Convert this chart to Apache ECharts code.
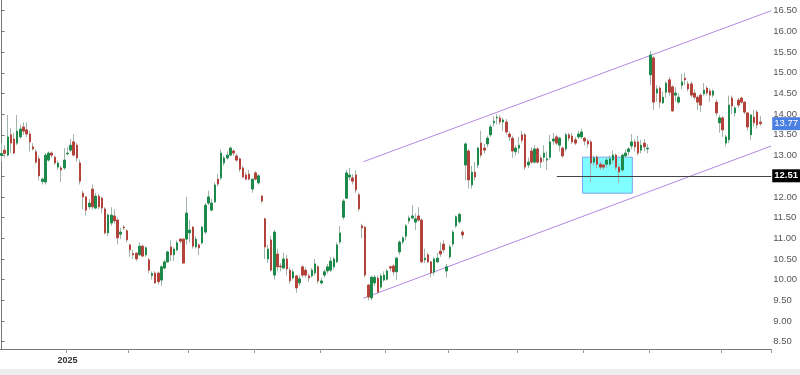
<!DOCTYPE html>
<html><head><meta charset="utf-8">
<script src="https://cdn.jsdelivr.net/npm/echarts@6/dist/echarts.min.js"></script>
<style>html,body{margin:0;padding:0;background:#fff}#c{width:800px;height:375px}</style>
</head><body><div id="c"></div>
<script>
// [open, close, low, high]
const candles = [
[13.00,13.05,12.85,13.30],[13.13,13.05,12.95,13.25],[13.01,13.45,12.98,13.98],[13.50,13.30,13.06,13.66],
[13.40,13.06,13.03,13.55],[13.30,13.59,13.25,13.98],[13.45,13.64,13.40,13.75],[13.69,13.59,13.50,13.80],
[13.62,13.52,13.45,13.80],[13.52,13.33,13.10,13.60],[13.21,13.16,13.12,13.30],[13.09,12.84,12.80,13.15],
[12.92,12.51,12.40,13.00],[12.37,12.43,12.30,12.47],[12.36,13.01,12.30,13.06],[12.89,13.06,12.85,13.10],
[13.06,13.01,12.95,13.10],[12.96,12.82,12.77,13.00],[12.72,12.82,12.65,12.88],[12.70,12.65,12.36,12.75],
[12.70,12.89,12.65,13.18],[13.04,13.06,13.00,13.20],[13.13,13.25,13.08,13.40],[13.33,13.01,12.98,13.52],
[13.25,12.94,12.85,13.30],[12.82,12.38,12.30,12.90],[12.09,12.00,11.70,12.15],[12.00,11.68,11.55,12.02],
[11.76,11.85,11.70,11.95],[12.19,11.76,11.70,12.30],[11.73,12.02,11.70,12.10],[12.02,11.76,11.70,12.08],
[11.97,11.73,11.60,12.00],[11.71,11.13,11.10,11.75],[11.13,11.56,11.05,11.60],[11.37,11.56,11.30,11.75],
[11.54,11.42,11.35,11.70],[11.44,11.01,10.85,11.50],[11.10,11.15,10.98,11.25],[11.27,11.25,11.20,11.32],
[11.18,10.96,10.90,11.22],[10.84,10.72,10.55,10.86],
[10.63,10.60,10.50,10.72],[10.64,10.50,10.45,10.66],[10.60,10.81,10.58,10.90],[10.81,10.57,10.55,10.85],
[10.60,10.77,10.55,10.80],[10.48,10.23,10.15,10.52],[10.10,10.15,10.00,10.20],[10.16,9.92,9.90,10.20],
[10.16,9.95,9.88,10.20],[9.99,10.31,9.85,10.35],[10.28,10.43,10.25,10.48],[10.43,10.67,10.40,10.70],
[10.79,10.60,10.45,10.95],[10.60,10.74,10.45,10.78],[10.72,10.89,10.68,10.95],[10.98,10.93,10.88,11.00],
[10.98,10.40,10.40,11.00],[10.98,11.61,10.85,12.00],[11.13,11.20,10.90,11.45],[11.27,10.81,10.75,11.30],
[10.79,10.98,10.75,11.05],[10.84,10.77,10.60,10.88],[10.89,11.27,10.85,11.30],[11.15,11.80,11.10,11.85],
[11.85,12.00,11.80,12.15],[11.68,11.85,11.65,11.95],[11.88,12.29,11.85,12.35],[12.43,12.31,12.25,12.55],
[12.46,13.06,12.40,13.15],[12.82,12.94,12.75,13.00],[12.94,13.01,12.90,13.10],[13.01,13.18,12.98,13.22],
[13.11,13.06,13.00,13.15],[12.99,12.89,12.85,13.05],[12.92,12.67,12.60,12.95],[12.70,12.48,12.45,12.75],
[12.53,12.43,12.40,12.60],[12.55,12.43,12.40,12.65],[12.19,12.43,12.10,12.45],[12.58,12.43,12.40,12.62],
[12.34,12.51,12.30,12.55],[12.02,11.90,11.85,12.05],[11.47,10.79,10.50,11.50],[10.50,10.74,10.40,10.85],
[10.96,10.23,10.20,11.05],[10.11,11.15,10.00,11.20],[10.62,10.31,10.20,10.75],[10.33,10.31,10.20,10.40],
[10.28,10.50,10.25,10.65],[10.50,10.26,10.10,10.60],[10.23,9.97,9.90,10.30],[10.04,10.19,10.00,10.25],
[10.09,9.80,9.68,10.12],[9.92,10.02,9.85,10.10],[10.31,10.11,10.05,10.35],[10.23,10.11,10.05,10.30],
[10.09,10.04,9.95,10.15],[10.09,10.23,10.05,10.28],[10.16,10.38,10.10,10.50],[10.31,9.97,9.90,10.35],
[9.92,9.97,9.88,10.05],[10.11,10.19,10.05,10.25],[10.21,10.31,10.15,10.38],[10.23,10.45,10.18,10.55],
[10.31,10.50,10.25,10.55],[10.43,10.84,10.40,10.90],[10.91,11.13,10.85,11.30],[11.51,11.90,11.45,11.95],
[11.97,12.58,11.95,12.65],[12.48,12.53,12.40,12.70],[12.46,12.38,12.30,12.55],[12.53,12.17,12.10,12.65],
[12.05,11.71,11.65,12.10],[11.30,11.25,11.00,11.35],[11.27,10.11,10.05,11.30],[9.87,9.58,9.50,9.90],
[9.56,10.06,9.50,10.10],[9.92,10.06,9.85,10.12],[10.04,9.70,9.65,10.10],[9.82,10.09,9.78,10.15],
[9.99,10.11,9.95,10.20],[10.01,10.21,9.98,10.25],
[10.31,10.28,10.20,10.35],[10.33,10.19,10.10,10.38],[10.19,10.52,10.00,10.55],[10.67,10.91,10.60,10.95],
[10.91,11.01,10.85,11.05],[11.05,11.30,10.95,11.35],[11.42,11.49,11.35,11.55],[11.49,11.54,11.45,11.80],
[11.39,11.47,11.20,11.60],[11.54,11.44,11.40,11.75],[11.44,10.43,10.40,11.48],[10.48,10.52,10.40,10.75],
[10.60,10.43,10.40,10.65],[10.43,10.16,10.05,10.45],[10.18,10.50,10.10,10.55],[10.43,10.52,10.40,10.65],
[10.69,10.62,10.55,10.90],[10.86,10.72,10.65,10.95],[10.21,10.31,10.05,10.38],[10.55,10.79,10.50,10.85],
[10.86,11.15,10.80,11.20],[11.30,11.52,11.25,11.55],[11.40,11.58,11.35,11.62],[11.15,11.08,10.98,11.20],
[12.77,13.28,12.40,13.32],[13.11,12.41,12.20,13.15],[12.29,12.60,12.20,12.75],[12.60,12.48,12.40,12.85],
[12.77,13.18,12.70,13.22],[13.30,13.01,12.95,13.60],[13.18,13.13,13.05,13.28],[13.28,13.42,13.20,13.48],
[13.50,13.69,13.45,13.75],[13.79,13.83,13.70,13.95],[13.91,13.93,13.75,14.00],[13.91,13.81,13.75,13.98],
[13.81,13.86,13.60,13.92],[13.81,13.57,13.50,13.88],[13.52,13.45,13.35,13.58],[13.42,13.11,12.95,13.48],
[13.09,13.18,13.00,13.25],[13.18,13.25,13.05,13.45],
[13.50,13.37,13.30,13.60],[13.50,12.72,12.65,13.55],[12.77,12.84,12.70,12.95],[13.11,12.84,12.80,13.20],
[12.84,13.16,12.80,13.25],[13.16,12.84,12.80,13.20],[12.94,12.84,12.70,13.00],[12.96,13.06,12.85,13.25],
[12.89,12.92,12.65,13.10],[12.96,13.33,12.90,13.50],[13.35,13.40,13.25,13.55],[13.45,13.30,13.25,13.50],
[13.25,13.42,13.10,13.45],[13.18,12.99,12.95,13.22],[13.16,13.50,13.10,13.55],[13.50,13.42,13.35,13.55],
[13.47,13.33,13.28,13.55],[13.38,13.30,13.25,13.45],[13.45,13.52,13.40,13.60],[13.45,13.57,13.40,13.65],
[13.42,13.35,13.25,13.45],[13.35,13.28,13.20,13.40],[13.33,12.82,12.36,13.38],[12.84,12.94,12.75,13.00],
[12.96,12.79,12.70,13.00],[12.79,12.72,12.65,12.85],[12.77,12.72,12.65,12.80],[12.79,12.89,12.70,12.95],
[12.79,12.92,12.75,13.00],[12.89,13.01,12.80,13.12],[13.01,12.72,12.65,13.05],[12.72,12.60,12.34,12.75],
[12.65,13.01,12.60,13.05],[12.99,13.06,12.95,13.15],[13.09,13.16,13.00,13.20],[13.23,13.33,13.15,13.52],
[13.33,13.21,13.10,13.40],[13.33,13.06,13.00,13.48],[13.13,13.25,13.05,13.38],[13.30,13.21,13.10,13.40],
[13.16,13.18,13.05,13.28],
[14.95,15.43,14.70,15.53],[15.36,14.29,14.10,15.40],[14.51,14.61,14.30,14.70],[14.63,14.29,14.15,14.68],
[14.27,14.41,14.25,14.55],[14.53,14.75,14.40,14.80],[14.83,14.53,14.45,14.90],[14.66,14.08,14.05,14.70],
[14.46,14.51,14.30,14.65],[14.29,14.41,14.25,14.50],[14.70,14.78,14.60,14.98],[14.87,14.83,14.70,15.00],
[14.73,14.61,14.55,14.80],[14.73,14.46,14.40,14.78],[14.51,14.41,14.35,14.60],[14.41,14.29,14.10,14.45],
[14.46,14.22,14.05,14.50],[14.49,14.58,14.45,14.75],[14.63,14.51,14.45,14.68],[14.56,14.46,14.30,14.62],
[14.46,14.56,14.40,14.60],[14.29,14.03,13.95,14.35],[13.79,13.91,13.55,13.98],[13.91,13.62,13.45,13.95],
[13.30,13.45,13.22,13.50],[13.38,14.22,13.30,14.45],[14.39,14.20,14.00,14.45],[14.03,14.15,13.95,14.20],
[14.34,14.22,14.15,14.40],[14.39,14.29,14.25,14.42],[14.29,14.05,14.00,14.32],[14.03,13.69,13.60,14.05],
[13.50,13.98,13.38,14.00],[13.93,13.79,13.70,14.10],[14.05,13.74,13.65,14.10],[13.81,13.77,13.72,13.95]
];
const slotCount = 246;
const monthTicks = [21,41,60,81,102,123,143,165,186,207,230];
const monthLabels = ['2025','','','','','','','','','',''];
const priceTicks = [8.5,9,9.5,10,10.5,11,11.5,12,12.5,13,13.5,14,14.5,15,15.5,16,16.5];
const yRange = [8.324, 16.759];
const lastPrice = 13.77;
const levelPrice = 12.51;
const levelStart = 177.1;
const channelUpper = [[115.4,12.85],[245.5,16.5]];
const channelLower = [[115.4,9.55],[245.5,13.23]];
const zoneBox = [[185.3,12.96],[201.2,12.09]];

const categories = Array.from({length: slotCount}, (_, i) => String(i));
const bodies = candles.map(c => [c[0], c[1], Math.min(c[0], c[1]), Math.max(c[0], c[1])]);

const chart = echarts.init(document.getElementById('c'), null, {renderer: 'canvas'});
const narrow = "'Liberation Sans Narrow','Arial Narrow','Liberation Sans',Arial,sans-serif";
chart.setOption({
  animation: false,
  backgroundColor: '#fff',
  grid: {left: 0, right: 24, top: 0, bottom: 26},
  xAxis: [{
    type: 'category', data: categories, boundaryGap: true,
    axisLine: {show: true, lineStyle: {color: '#777'}},
    axisTick: {show: true, length: 4, lineStyle: {color: '#999'}, interval: i => monthTicks.includes(i)},
    axisLabel: {interval: i => monthTicks.includes(i),
      formatter: (v, i) => { const k = monthTicks.indexOf(i); return k >= 0 ? monthLabels[k] : ''; },
      fontSize: 9, color: '#333', fontWeight: 'bold', margin: 7, fontFamily: narrow},
    splitLine: {show: false}
  }, {
    type: 'value', min: -0.5, max: slotCount - 0.5, show: false
  }],
  yAxis: {
    type: 'value', position: 'right', min: yRange[0], max: yRange[1], scale: true,
    axisLine: {show: true, lineStyle: {color: '#777'}},
    axisTick: {show: true, length: 3, customValues: priceTicks, lineStyle: {color: '#777'}},
    axisLabel: {customValues: priceTicks, formatter: v => v.toFixed(2), fontSize: 9.5, color: '#555', margin: 2, fontFamily: narrow},
    splitLine: {show: false}
  },
  graphic: [{type: 'rect', left: 0, top: 369, shape: {width: 800, height: 6}, style: {fill: '#ededed'}, silent: true}],
  series: [
    {
      type: 'line', xAxisIndex: 1, data: channelUpper, symbol: 'none',
      lineStyle: {color: '#b588e2', width: 1}, z: 1,
      markArea: {silent: true, itemStyle: {color: 'rgba(0,255,255,0.5)', borderColor: '#7da3ee', borderWidth: 1},
        data: [[{coord: zoneBox[0]}, {coord: zoneBox[1]}]]},
      markLine: {silent: true, symbol: 'none',
        lineStyle: {color: '#444', width: 1, type: 'solid'},
        label: {show: true, position: 'end', distance: 1, formatter: () => levelPrice.toFixed(2),
          backgroundColor: '#000', color: '#fff', padding: [2, 2, 1, 2], fontSize: 9.5, fontWeight: 'bold', fontFamily: narrow},
        data: [[{coord: [levelStart, levelPrice]}, {coord: [slotCount - 0.5, levelPrice]}]]}
    },
    {
      type: 'line', xAxisIndex: 1, data: channelLower, symbol: 'none',
      lineStyle: {color: '#b588e2', width: 1}, z: 1
    },
    {
      type: 'candlestick', data: candles, barWidth: 1, z: 2,
      itemStyle: {color: '#a3b5ab', color0: '#a3b5ab', borderColor: '#a3b5ab', borderColor0: '#a3b5ab', borderWidth: 1}
    },
    {
      type: 'candlestick', data: bodies, barWidth: 2, z: 3,
      itemStyle: {color: '#1d8a4c', color0: '#b3433a', borderColor: '#1d8a4c', borderColor0: '#b3433a', borderWidth: 1},
      markLine: {silent: true, symbol: 'none', lineStyle: {color: 'rgba(0,0,0,0)', width: 0},
        label: {show: true, position: 'end', distance: 1, formatter: () => lastPrice.toFixed(2),
          backgroundColor: '#4b7fe2', color: '#fff', padding: [2, 2, 1, 2], fontSize: 9.5, fontFamily: narrow},
        data: [{yAxis: lastPrice}]}
    }
  ]
});
</script></body></html>
